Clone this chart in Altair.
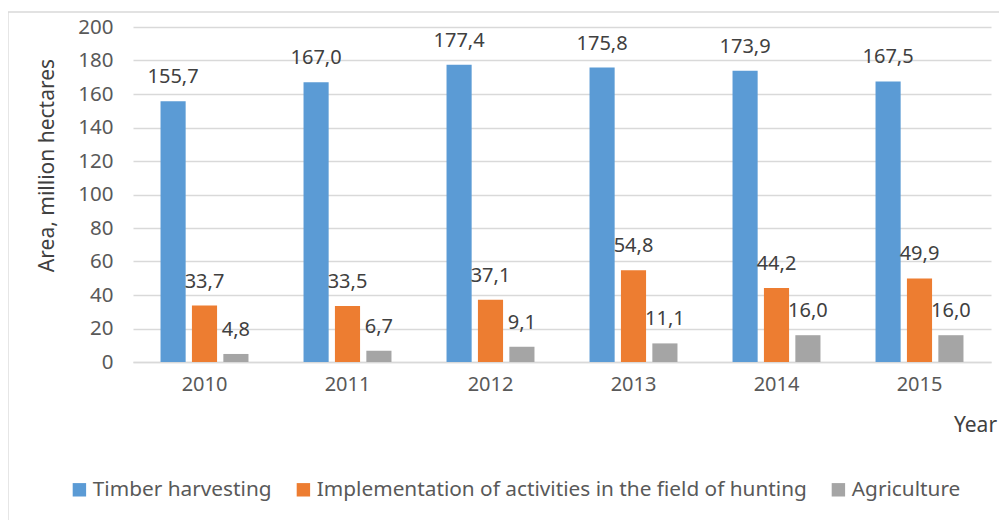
import altair as alt
import pandas as pd

years = ["2010", "2011", "2012", "2013", "2014", "2015"]
series = ["Timber harvesting", "Implementation of activities in the field of hunting", "Agriculture"]
timber = [155.7, 167.0, 177.4, 175.8, 173.9, 167.5]
hunting = [33.7, 33.5, 37.1, 54.8, 44.2, 49.9]
agriculture = [4.8, 6.7, 9.1, 11.1, 16.0, 16.0]
y_ticks = [0, 20, 40, 60, 80, 100, 120, 140, 160, 180, 200]
colors = ["#5B9BD5", "#ED7D31", "#A5A5A5"]

rows = []
for s, vals in zip(series, [timber, hunting, agriculture]):
    for y, v in zip(years, vals):
        rows.append({"year": y, "series": s, "value": v})
df = pd.DataFrame(rows)

FONT = "Noto Sans"

x = alt.X("year:N", sort=years,
          scale=alt.Scale(paddingInner=0.385, paddingOuter=0.1925),
          axis=alt.Axis(title="Year", labelAngle=0, labelFontSize=20, labelColor="#595959",
                        labelPadding=12, ticks=False, domainColor="#D9D9D9", domainWidth=1.3,
                        titleFontSize=21, titleFontWeight="normal", titleColor="#404040",
                        titleX=842, titleY=63, titleAlign="center", titleBaseline="middle",
                        labelFont=FONT, titleFont=FONT))
xo = alt.XOffset("series:N", sort=series, scale=alt.Scale(paddingInner=0.2, paddingOuter=0))
y = alt.Y("value:Q", scale=alt.Scale(domain=[0, 200]),
          axis=alt.Axis(title="Area, million hectares", values=y_ticks,
                        labelOverlap=False, labelSeparation=0,
                        labelFontSize=20.5, labelColor="#595959", labelPadding=20, ticks=False,
                        domain=False, gridColor="#D9D9D9", gridWidth=1.3,
                        titleFontSize=21, titleFontWeight="normal", titleColor="#404040",
                        titleX=-86, titleY=138, titleAngle=-90, titleAlign="center",
                        titleBaseline="middle", labelFont=FONT, titleFont=FONT))

bars = alt.Chart(df).mark_bar().encode(
    x=x,
    xOffset=xo,
    y=y,
    color=alt.Color("series:N", sort=series,
                    scale=alt.Scale(domain=series, range=colors),
                    legend=alt.Legend(title=None, orient="none", direction="horizontal",
                                      legendX=-64, legendY=452, symbolType="square",
                                      symbolSize=180, symbolStrokeWidth=0,
                                      labelFontSize=20.8, labelColor="#595959", labelFont=FONT,
                                      columnPadding=21, labelOffset=3, labelLimit=1000)),
)

labels = alt.Chart(df).transform_calculate(
    lab="replace(format(datum.value, '.1f'), '.', ',')"
).mark_text(fontSize=20, color="#404040", font=FONT, baseline="middle", dy=-24).encode(
    x=x,
    xOffset=xo,
    y=y,
    text="lab:N",
)

frame = alt.Chart(pd.DataFrame({"f": [0]})).mark_rect(
    fill=None, stroke="#D9D9D9", strokeWidth=1.3
).encode(
    x=alt.value(-125), x2=alt.value(880), y=alt.value(-15), y2=alt.value(540)
)

chart = alt.layer(frame, bars, labels).properties(
    width=858, height=335,
    autosize=alt.AutoSizeParams(type="none"),
    padding={"left": 125, "top": 19, "right": 8, "bottom": 170},
).configure_view(stroke=None).configure_axis(labelOverlap=False)

chart.save("out.html", embed_options={"renderer": "svg", "actions": False})
